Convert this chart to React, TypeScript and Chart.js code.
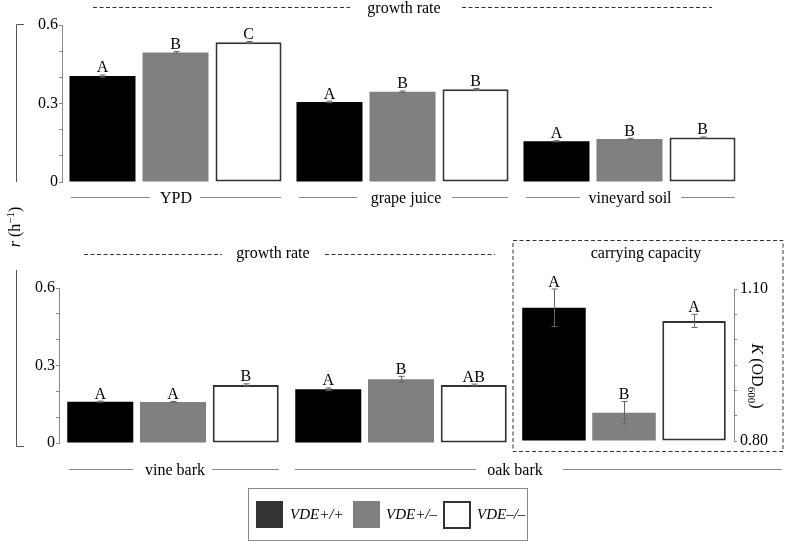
import { useEffect, useRef } from 'react';
import { Chart, registerables } from 'chart.js';

Chart.register(...registerables);

// ---------- data ----------
const genotypes = ['VDE+/+', 'VDE+/–', 'VDE–/–'];
const genotypeFill = ['#000000', '#808080', '#ffffff'];
const genotypeBorder = ['#000000', '#808080', '#333333'];
const genotypeBorderWidth = [0, 0, 2];

// growth rate r (h^-1), top panel
const mediaTop = ['YPD', 'grape juice', 'vineyard soil'];
const rTopHomo = [0.405, 0.306, 0.156];
const rTopHet = [0.495, 0.345, 0.164];
const rTopNull = [0.534, 0.354, 0.17];
const rTopHomoErr = [0.004, 0.003, 0.002];
const rTopHetErr = [0.004, 0.003, 0.003];
const rTopNullErr = [0.003, 0.003, 0.002];
const rTopHomoLetters = ['A', 'A', 'A'];
const rTopHetLetters = ['B', 'B', 'B'];
const rTopNullLetters = ['C', 'B', 'B'];

// growth rate r (h^-1), bottom panel
const barkGroups = ['vine bark', 'oak bark'];
const rBarkHomo = [0.16, 0.208];
const rBarkHet = [0.159, 0.247];
const rBarkNull = [0.225, 0.225];
const rBarkHomoErr = [0.002, 0.005];
const rBarkHetErr = [0.002, 0.011];
const rBarkNullErr = [0.004, 0.003];
const rBarkHomoLetters = ['A', 'A'];
const rBarkHetLetters = ['A', 'B'];
const rBarkNullLetters = ['B', 'AB'];

// carrying capacity K (OD600), oak bark
const kGroups = ['oak bark'];
const kHomo = [1.063];
const kHet = [0.856];
const kNull = [1.037];
const kHomoErr = [0.037];
const kHetErr = [0.022];
const kNullErr = [0.013];
const kHomoLetters = ['A'];
const kHetLetters = ['B'];
const kNullLetters = ['A'];

const rTicksShown = [0, 0.3, 0.6];
const kTicksShown = [0.8, 1.1];

const FONT = '"Liberation Serif", "DejaVu Serif", serif';

// ---------- helpers ----------
const errLetterPlugin = {
  id: 'errLetters',
  afterDatasetsDraw(chart: any) {
    const ctx = chart.ctx;
    const ys = chart.scales.y;
    chart.data.datasets.forEach((ds: any, i: number) => {
      const meta = chart.getDatasetMeta(i);
      meta.data.forEach((bar: any, j: number) => {
        const v = ds.data[j];
        const e = ds.errors[j];
        const x = Math.round(bar.x) + 0.5;
        const yTop = ys.getPixelForValue(v + e);
        const yBot = ys.getPixelForValue(v - e);
        ctx.save();
        ctx.strokeStyle = '#666';
        ctx.lineWidth = 1;
        ctx.beginPath();
        ctx.moveTo(x, yTop);
        ctx.lineTo(x, yBot);
        ctx.moveTo(x - 3, yTop);
        ctx.lineTo(x + 3, yTop);
        ctx.moveTo(x - 3, yBot);
        ctx.lineTo(x + 3, yBot);
        ctx.stroke();
        ctx.fillStyle = '#000';
        ctx.font = `16px ${FONT}`;
        ctx.textAlign = 'center';
        ctx.textBaseline = 'alphabetic';
        ctx.fillText(ds.letters[j], bar.x, Math.min(yTop, bar.y) - 2.5);
        ctx.restore();
      });
    });
  },
};

function makeDatasets(
  values: number[][],
  errors: number[][],
  letters: string[][],
  catPct: number,
  barPct: number,
  base: number,
) {
  return values.map((vals, g) => ({
    label: genotypes[g],
    data: vals,
    errors: errors[g],
    letters: letters[g],
    base,
    backgroundColor: genotypeFill[g],
    borderColor: genotypeBorder[g],
    borderWidth: genotypeBorderWidth[g],
    borderSkipped: false,
    clip: false,
    categoryPercentage: catPct,
    barPercentage: barPct,
  }));
}

function makeConfig(
  labels: string[],
  datasets: any[],
  padding: any,
  yMin: number,
  yMax: number,
  step: number,
  shown: number[],
  digits: number,
  position: 'left' | 'right',
) {
  return {
    type: 'bar',
    data: { labels, datasets },
    options: {
      responsive: false,
      animation: false,
      events: [],
      layout: { padding },
      plugins: { legend: { display: false }, tooltip: { enabled: false } },
      scales: {
        x: { display: false },
        y: {
          position,
          min: yMin,
          max: yMax,
          afterFit(scale: any) {
            scale.width = 40;
          },
          border: { display: true, color: '#888', width: 1 },
          grid: { display: true, drawOnChartArea: false, drawTicks: true, tickLength: 3, color: '#888' },
          ticks: {
            stepSize: step,
            autoSkip: false,
            padding: position === 'left' ? 1 : 3,
            color: '#000',
            font: { family: FONT, size: 16 },
            callback: (v: number) => {
              const s = shown.find((t) => Math.abs(t - v) < 1e-6);
              if (s === undefined) return '';
              return s === 0 ? '0' : s.toFixed(digits);
            },
          },
        },
      },
    },
    plugins: [errLetterPlugin],
  };
}

export default function App() {
  const topRef = useRef<HTMLCanvasElement>(null);
  const barkRef = useRef<HTMLCanvasElement>(null);
  const kRef = useRef<HTMLCanvasElement>(null);

  useEffect(() => {
    const charts: Chart[] = [];
    charts.push(
      new Chart(
        topRef.current as HTMLCanvasElement,
        makeConfig(
          mediaTop,
          makeDatasets(
            [rTopHomo, rTopHet, rTopNull],
            [rTopHomoErr, rTopHetErr, rTopNullErr],
            [rTopHomoLetters, rTopHetLetters, rTopNullLetters],
            0.965,
            0.904,
            0,
          ),
          { left: 22, right: 44, top: 25, bottom: 359 },
          0,
          0.6,
          0.1,
          rTicksShown,
          1,
          'left',
        ) as any,
      ),
    );
    charts.push(
      new Chart(
        barkRef.current as HTMLCanvasElement,
        makeConfig(
          barkGroups,
          makeDatasets(
            [rBarkHomo, rBarkHet, rBarkNull],
            [rBarkHomoErr, rBarkHetErr, rBarkNullErr],
            [rBarkHomoLetters, rBarkHetLetters, rBarkNullLetters],
            0.957,
            0.908,
            0,
          ),
          { left: 19, right: 272, top: 288, bottom: 98 },
          0,
          0.6,
          0.1,
          rTicksShown,
          1,
          'left',
        ) as any,
      ),
    );
    charts.push(
      new Chart(
        kRef.current as HTMLCanvasElement,
        makeConfig(
          kGroups,
          makeDatasets(
            [kHomo, kHet, kNull],
            [kHomoErr, kHetErr, kNullErr],
            [kHomoLetters, kHetLetters, kNullLetters],
            0.955,
            0.907,
            kTicksShown[0],
          ),
          { left: 514, right: 13, top: 289, bottom: 100 },
          0.8,
          1.1,
          0.05,
          kTicksShown,
          2,
          'right',
        ) as any,
      ),
    );
    return () => charts.forEach((c) => c.destroy());
  }, []);

  const abs: any = { position: 'absolute', left: 0, top: 0 };
  const dash = { stroke: '#333', strokeWidth: 1, strokeDasharray: '4 2.5' };
  const solid = { stroke: '#888', strokeWidth: 1 };

  return (
    <div style={{ position: 'absolute', left: 0, top: 0, width: 787, height: 541, background: '#fff', overflow: 'hidden' }}>
      <canvas ref={topRef} width={787} height={541} style={abs} />
      <canvas ref={barkRef} width={787} height={541} style={abs} />
      <canvas ref={kRef} width={787} height={541} style={abs} />
      <svg width={787} height={541} style={{ ...abs, pointerEvents: 'none' }} fontFamily={FONT} fontSize={16}>
        {/* top title */}
        <line x1={93} y1={7.5} x2={350} y2={7.5} {...dash} />
        <line x1={462} y1={7.5} x2={712} y2={7.5} {...dash} />
        <text x={404} y={13} textAnchor="middle">growth rate</text>

        {/* top category labels */}
        <line x1={71} y1={197.5} x2={150} y2={197.5} {...solid} />
        <line x1={200} y1={197.5} x2={281} y2={197.5} {...solid} />
        <text x={176} y={203} textAnchor="middle">{mediaTop[0]}</text>
        <line x1={299} y1={197.5} x2={357} y2={197.5} {...solid} />
        <line x1={452} y1={197.5} x2={508} y2={197.5} {...solid} />
        <text x={406} y={203} textAnchor="middle">{mediaTop[1]}</text>
        <line x1={526} y1={197.5} x2={580} y2={197.5} {...solid} />
        <line x1={681} y1={197.5} x2={735} y2={197.5} {...solid} />
        <text x={630} y={203} textAnchor="middle">{mediaTop[2]}</text>

        {/* left bracket and r label */}
        <polyline points="24,24.5 16.5,24.5 16.5,182" fill="none" stroke="#555" strokeWidth={1} />
        <polyline points="16.5,270 16.5,446.5 24,446.5" fill="none" stroke="#555" strokeWidth={1} />
        <text transform="translate(20,227) rotate(-90)" textAnchor="middle">
          <tspan fontStyle="italic">r</tspan> (h<tspan dy={-6} fontSize={11}>−1</tspan>
          <tspan dy={6}>)</tspan>
        </text>

        {/* bottom title */}
        <line x1={84} y1={254.5} x2={222} y2={254.5} {...dash} />
        <line x1={325} y1={254.5} x2={495} y2={254.5} {...dash} />
        <text x={273} y={258} textAnchor="middle">growth rate</text>

        {/* carrying capacity box */}
        <rect x={513} y={240.5} width={270} height={211} fill="none" {...dash} />
        <text x={646} y={258} textAnchor="middle">carrying capacity</text>
        <text transform="translate(752,376) rotate(90)" textAnchor="middle">
          <tspan fontStyle="italic">K</tspan> (OD<tspan dy={4} fontSize={11}>600</tspan>
          <tspan dy={-4}>)</tspan>
        </text>

        {/* bottom category labels */}
        <line x1={69} y1={469.5} x2={133} y2={469.5} {...solid} />
        <line x1={212} y1={469.5} x2={279} y2={469.5} {...solid} />
        <text x={175} y={475} textAnchor="middle">{barkGroups[0]}</text>
        <line x1={295} y1={469.5} x2={476} y2={469.5} {...solid} />
        <line x1={563} y1={469.5} x2={782} y2={469.5} {...solid} />
        <text x={515} y={475} textAnchor="middle">{barkGroups[1]}</text>

        {/* legend */}
        <rect x={248.5} y={488.5} width={279} height={52} fill="none" stroke="#888" strokeWidth={1} />
        <rect x={256} y={501} width={27} height={27} fill="#333" />
        <text x={290} y={519} fontSize={15} fontStyle="italic">{genotypes[0]}</text>
        <rect x={353} y={501} width={27} height={27} fill="#808080" />
        <text x={386} y={519} fontSize={15} fontStyle="italic">{genotypes[1]}</text>
        <rect x={444} y={502} width={26} height={26} fill="#fff" stroke="#333" strokeWidth={2} />
        <text x={477} y={519} fontSize={15} fontStyle="italic">{genotypes[2]}</text>
      </svg>
    </div>
  );
}
